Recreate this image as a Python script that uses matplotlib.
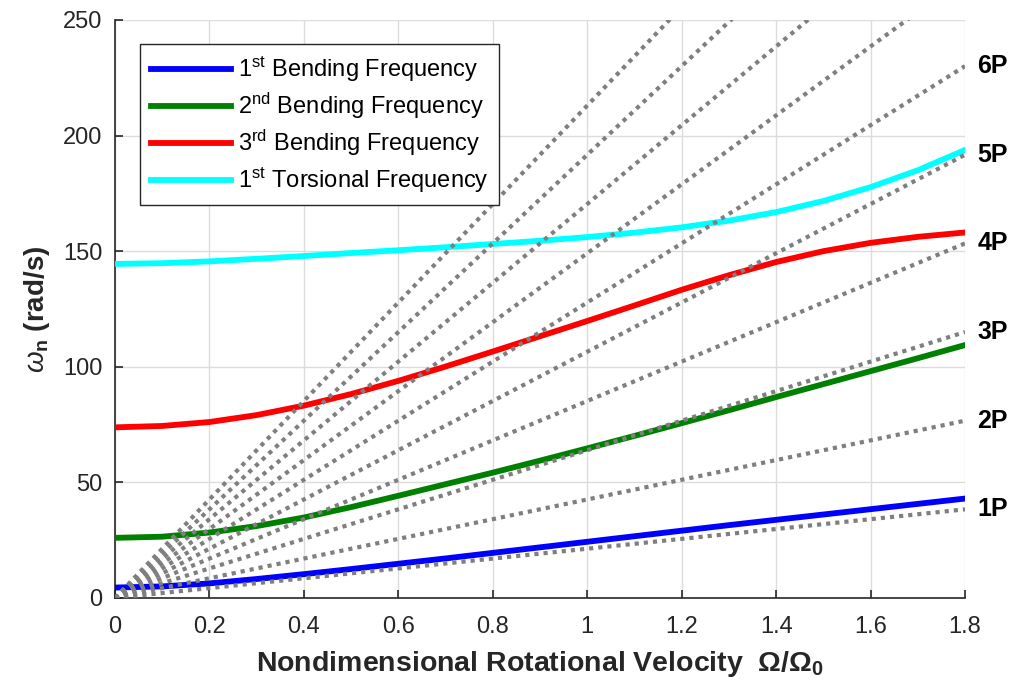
import numpy as np
import matplotlib
matplotlib.use("Agg")
import matplotlib.pyplot as plt

plt.rcParams['font.family'] = ['Liberation Sans', 'DejaVu Sans']
plt.rcParams['mathtext.fontset'] = 'custom'
plt.rcParams['mathtext.rm'] = 'Liberation Sans'
plt.rcParams['mathtext.it'] = 'Liberation Sans:italic'
plt.rcParams['mathtext.bf'] = 'Liberation Sans:bold'

# nondimensional rotor speed
omega_ratio = [0.0, 0.1, 0.2, 0.3, 0.4, 0.5, 0.6, 0.7, 0.8, 0.9,
               1.0, 1.1, 1.2, 1.3, 1.4, 1.5, 1.6, 1.7, 1.8]
# natural frequencies (rad/s)
bend1 = [4.5, 5.0, 6.3, 8.2, 10.3, 12.5, 14.8, 17.1, 19.5, 21.9,
         24.3, 26.7, 29.1, 31.5, 33.8, 36.1, 38.4, 40.7, 43.0]
bend2 = [26.0, 26.5, 28.3, 31.1, 34.8, 39.3, 44.2, 49.2, 54.2, 59.4,
         64.7, 70.1, 75.6, 81.2, 86.9, 92.5, 98.1, 103.7, 109.4]
bend3 = [73.8, 74.4, 76.1, 79.1, 83.2, 88.2, 93.9, 100.1, 106.6, 113.2,
         119.8, 126.5, 133.3, 139.6, 145.3, 150.0, 153.6, 156.2, 158.1]
tors1 = [144.5, 144.8, 145.6, 146.7, 147.9, 149.2, 150.4, 151.7, 153.1, 154.5,
         156.1, 158.0, 160.3, 163.2, 166.9, 171.7, 177.7, 185.0, 193.8]

# per-revolution excitation lines, 1P ... 10P
omega0 = 21.3
harmonics = list(range(1, 11))
labelled = [1, 2, 3, 4, 5, 6]

fig = plt.figure(figsize=(10.14, 6.87), dpi=100)
ax = fig.add_axes([0.1134, 0.1296, 0.8383, 0.8413])

curves = [
    (bend1, 'blue', r'1$^{\mathrm{st}}$ Bending Frequency'),
    (bend2, 'green', r'2$^{\mathrm{nd}}$ Bending Frequency'),
    (bend3, 'red', r'3$^{\mathrm{rd}}$ Bending Frequency'),
    (tors1, 'cyan', r'1$^{\mathrm{st}}$ Torsional Frequency'),
]
for y, c, lab in curves:
    ax.plot(omega_ratio, y, color=c, lw=4.2, label=lab, zorder=3,
            solid_joinstyle='round')

xs = np.array([0.0, 1.8])
for n in harmonics:
    ax.plot(xs, n * omega0 * xs, color='#7f7f7f', lw=3.0,
            linestyle=(0, (1.0, 1.2)), dash_capstyle='butt', zorder=4)
for n in labelled:
    ax.annotate(f'{n}P', xy=(1.8, n * omega0 * 1.8), xytext=(9, 0),
                textcoords='offset points', fontsize=18, fontweight='bold',
                va='center', ha='left', annotation_clip=False)

ax.set_xlim(0, 1.8)
ax.set_ylim(0, 250)
ax.set_xticks(np.arange(0, 1.81, 0.2))
ax.set_xticklabels(['0', '0.2', '0.4', '0.6', '0.8', '1', '1.2', '1.4', '1.6', '1.8'])
ax.set_yticks([0, 50, 100, 150, 200, 250])
ax.grid(True, color='#dcdcdc', lw=1.0)
ax.set_axisbelow(True)
for s in ['top', 'right']:
    ax.spines[s].set_visible(False)
for s in ['left', 'bottom']:
    ax.spines[s].set_color('#262626')
    ax.spines[s].set_linewidth(1.2)
ax.tick_params(direction='in', length=6, width=1.2, color='#262626',
               labelcolor='#262626', labelsize=17)
ax.tick_params(axis='x', pad=13)
ax.tick_params(axis='y', pad=9)

ax.set_xlabel(r'Nondimensional Rotational Velocity  $\mathbf{\Omega/\Omega_0}$',
              fontsize=20.5, fontweight='bold', color='#262626', labelpad=8)
ax.set_ylabel(r'$\omega_{\mathbf{n}}$ (rad/s)', fontsize=20, fontweight='bold',
              color='#262626', labelpad=8)

leg = ax.legend(loc='upper left', bbox_to_anchor=(0.0294, 0.9585), borderaxespad=0,
                fontsize=17, handlelength=3.4, handletextpad=0.3,
                labelspacing=0.3, fancybox=False, framealpha=1,
                edgecolor='#262626', borderpad=0.45)
leg.get_frame().set_linewidth(1.0)

fig.savefig('out.png', dpi=100)
